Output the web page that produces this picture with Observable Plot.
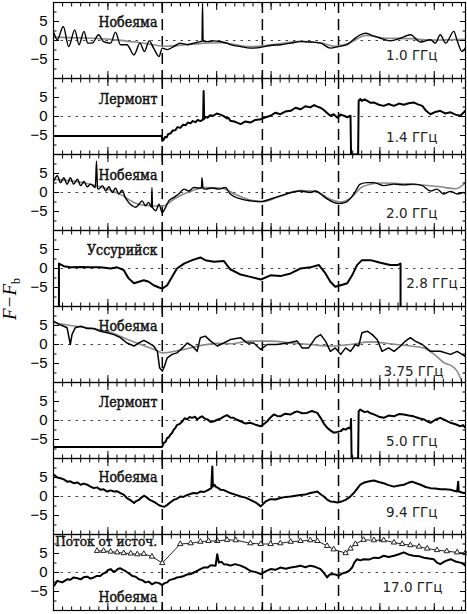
<!DOCTYPE html>
<html><head><meta charset="utf-8">
<script src="https://cdn.jsdelivr.net/npm/d3@7"></script>
<script src="https://cdn.jsdelivr.net/npm/@observablehq/plot@0.6"></script>
<style>body{margin:0;background:#fff}</style>
</head><body><div id="chart"></div>
<script>
// time axis in minutes from the left edge; dashed lines mark events
const panels = [1, 2, 3, 4, 5, 6, 7, 8];
const stations = ["Нобеяма", "Лермонт", "Нобеяма", "Уссурийск", "Нобеяма", "Лермонт", "Нобеяма", "Нобеяма"];
const freqs = ["1.0 ГГц", "1.4 ГГц", "2.0 ГГц", "2.8 ГГц", "3.75 ГГц", "5.0 ГГц", "9.4 ГГц", "17.0 ГГц"];
const stationY = [4.8, 4.6, 4.6, 4.8, 4.8, 4.7, 4.9, -6.5];
const stationX = 1.91;
const freqX = [7.06, 7.06, 7.06, 7.43, 7.17, 7.06, 7.06, 7.15];
const freqY = [-3.9, -5.7, -5.6, -3.9, -7.1, -5.7, -4.2, -4.0];
const fluxLabel = "Поток от источ.";
const fluxLabelPos = [0.03, 8.0];
const eventTimes = [2.0, 3.84, 5.24];
const yLabelTicks = [-5, 0, 5];
const yMinorTicks = [-7.5, -2.5, 2.5, 7.5];
const xMajorTicks = [0, 1, 2, 3, 4, 5, 6, 7];
const xMinorTicks = d3.range(0, 7.58, 1 / 6);

// Panel 1: 1.0 GHz
const p1Black = [[0.01,1.9],[0.07,0.2],[0.18,3.7],[0.28,-1.6],[0.39,2.8],[0.47,-1.1],[0.56,2.4],[0.63,-0.7],[0.71,-0.7],[0.83,1.5],[0.92,-0.3],[1.05,-0.7],[1.14,2.2],[1.23,-1.1],[1.35,-1.1],[1.48,-3.8],[1.59,-0.7],[1.67,-2.9],[1.76,-0.1],[1.84,-2.0],[1.94,-4.2],[2.0,-2.0],[2.09,-2.4],[2.21,-1.6],[2.33,-0.7],[2.46,-1.1],[2.58,-0.7],[2.7,-0.3],[2.73,-0.2],[2.74,9.8],[2.75,-0.2],[2.83,-0.3],[2.95,-0.1],[3.07,-0.3],[3.19,-0.7],[3.25,-1.1],[3.44,-1.6],[3.62,-2.0],[3.81,-1.8],[3.99,-1.3],[4.17,-1.1],[4.36,-0.7],[4.54,-0.3],[4.72,-0.4],[4.91,-0.7],[5.09,-2.0],[5.24,-1.6],[5.4,-1.1],[5.51,0.2],[5.64,1.5],[5.74,1.9],[5.83,1.5],[6.01,0.6],[6.19,-0.1],[6.38,0.6],[6.56,1.5],[6.75,-0.4],[6.93,0.2],[7.02,-0.7],[7.11,1.5],[7.21,-0.7],[7.36,2.4],[7.42,0],[7.51,-2.9],[7.57,-2.0]];
const p1Grey = [[0,0.9],[0.5,0.7],[1.05,0.3],[1.6,-0.6],[2.06,-1.5],[2.52,-1.0],[3.07,-0.6],[3.62,-1.6],[4.08,-1.0],[4.54,-0.2],[4.91,-0.6],[5.18,-1.5],[5.46,-0.5],[5.74,1.3],[6.1,0.6],[6.56,0.5],[6.93,0.1],[7.3,0.2],[7.57,0.3]];
// Panel 2: 1.4 GHz
const p2Black = [[0,-5.1],[1.99,-5.1],[2.0,-6.4],[2.02,-6.2],[2.05,-5.4],[2.08,-5.5],[2.11,-4.6],[2.15,-4.5],[2.19,-3.7],[2.24,-3.6],[2.28,-2.8],[2.33,-3.0],[2.38,-2.2],[2.43,-2.3],[2.47,-1.6],[2.52,-1.8],[2.56,-1.2],[2.61,-1.5],[2.65,-0.9],[2.7,-1.2],[2.75,-0.8],[2.76,6.7],[2.77,-0.6],[2.8,-0.1],[2.83,-0.3],[2.88,0.3],[2.94,0.2],[3.0,0.8],[3.07,0.5],[3.13,0.1],[3.19,-0.5],[3.22,-0.4],[3.25,-1.1],[3.34,-1.4],[3.44,-2.0],[3.53,-1.3],[3.62,-1.6],[3.71,-0.9],[3.81,-0.7],[3.9,-0.2],[3.99,0.2],[4.08,1.0],[4.17,0.6],[4.26,1.3],[4.36,1.5],[4.45,2.3],[4.54,1.9],[4.63,2.7],[4.72,2.4],[4.79,3.0],[4.85,2.6],[4.91,2.3],[4.97,1.7],[5.03,0.9],[5.09,0.2],[5.15,0.6],[5.22,-0.3],[5.28,0.5],[5.34,0.2],[5.4,-0.2],[5.46,0.2],[5.47,-10],[5.6,-10],[5.61,4.1],[5.64,4.6],[5.67,4.1],[5.72,4.5],[5.77,4.1],[5.83,3.6],[5.89,3.7],[5.98,3.1],[6.07,2.8],[6.16,3.3],[6.26,2.8],[6.35,3.4],[6.44,3.1],[6.53,3.5],[6.62,3.7],[6.7,3.2],[6.78,2.8],[6.85,1.5],[6.93,0.6],[7.02,1.2],[7.11,1.5],[7.2,0.8],[7.3,1.1],[7.39,0.5],[7.48,0.2],[7.53,0.9],[7.57,1.5]];
// Panel 3: 2.0 GHz
const p3Black = [[0.01,3.1],[0.07,4.4],[0.13,2.6],[0.19,3.9],[0.25,2.2],[0.31,3.9],[0.37,2.2],[0.44,3.5],[0.5,1.8],[0.56,2.9],[0.62,1.5],[0.68,2.2],[0.77,1.3],[0.79,8.3],[0.81,1.1],[0.83,0.9],[0.9,1.8],[0.96,0.4],[1.02,1.5],[1.08,0],[1.14,1.2],[1.2,-0.4],[1.26,0.6],[1.32,-1.3],[1.38,-2.6],[1.45,-3.5],[1.51,-3.9],[1.57,-3.1],[1.63,-2.2],[1.69,-3.5],[1.75,-2.6],[1.8,-3.9],[1.81,1.3],[1.82,-3.9],[1.88,-4.8],[1.94,-3.1],[2.0,-5.3],[2.06,-3.9],[2.12,-2.2],[2.21,-1.3],[2.3,-0.4],[2.4,0.9],[2.49,0.4],[2.58,1.3],[2.67,1.2],[2.72,1.2],[2.73,3.9],[2.75,1.0],[2.79,0.9],[2.92,1.2],[3.04,0.9],[3.16,1.3],[3.25,-0.4],[3.44,-1.7],[3.62,-2.2],[3.81,-2.4],[3.99,-1.7],[4.17,-0.9],[4.36,0],[4.54,0.4],[4.72,0],[4.82,0.4],[4.91,-0.4],[5.03,-1.7],[5.15,-2.6],[5.24,-2.9],[5.37,-2.6],[5.52,-0.4],[5.64,2.2],[5.77,2.6],[5.89,2.6],[6.07,1.8],[6.26,2.2],[6.44,2.0],[6.62,2.2],[6.78,1.8],[6.93,0.4],[7.05,0.9],[7.17,-0.4],[7.3,0.3],[7.42,-0.4],[7.54,0],[7.57,-0.2]];
const p3Grey = [[0,3.5],[0.5,2.7],[0.86,1.5],[1.23,-0.5],[1.51,-2.8],[1.78,-3.5],[2.0,-3.6],[2.24,-1.5],[2.52,0.3],[2.79,1.3],[3.07,1.2],[3.35,-0.5],[3.62,-2.0],[3.84,-2.4],[4.17,-1.0],[4.54,0.5],[4.82,0.3],[5.09,-1.8],[5.28,-2.5],[5.46,-1.5],[5.68,1.5],[6.01,2.5],[6.56,2.2],[7.11,1.5],[7.39,1.0],[7.57,2.5]];
// Panel 4: 2.8 GHz
const p4Black = [[0.1,-10],[0.1,1.3],[0.19,0.6],[0.31,0.3],[0.5,0.4],[0.68,0.3],[0.86,0.3],[1.05,0],[1.17,0.3],[1.29,-0.4],[1.38,-2.6],[1.48,-3.9],[1.57,-3.5],[1.66,-3.1],[1.75,-3.5],[1.84,-4.4],[1.94,-5.0],[2.0,-5.3],[2.09,-4.4],[2.18,-2.2],[2.27,0],[2.4,1.3],[2.55,2.2],[2.7,2.9],[2.79,2.2],[2.95,1.8],[3.13,2.0],[3.25,-0.2],[3.44,-1.6],[3.62,-2.2],[3.81,-2.9],[3.99,-1.8],[4.17,-2.0],[4.36,-1.3],[4.54,0],[4.72,0.3],[4.88,0.9],[5.0,-1.3],[5.09,-3.5],[5.18,-4.8],[5.28,-4.4],[5.4,-3.9],[5.49,-1.8],[5.58,0.9],[5.67,2.2],[5.83,2.2],[6.01,1.5],[6.19,0.9],[6.32,0.9],[6.38,1.3],[6.38,-10]];
// Panel 5: 3.75 GHz
const p5Black = [[0.01,6.1],[0.1,5.3],[0.19,4.8],[0.25,4.4],[0.28,2.2],[0.31,0],[0.34,2.6],[0.4,4.4],[0.5,4.8],[0.62,4.2],[0.74,4.2],[0.86,3.5],[0.99,3.1],[1.11,2.6],[1.23,1.8],[1.35,0.4],[1.48,-0.4],[1.57,0.4],[1.66,1.1],[1.75,0.4],[1.84,-0.4],[1.91,-1.8],[1.95,-6.1],[2.0,-7.0],[2.04,-5.7],[2.09,-3.5],[2.18,-2.6],[2.27,-2.2],[2.37,-0.9],[2.46,0.4],[2.55,-0.4],[2.64,-1.8],[2.7,1.8],[2.79,2.2],[2.89,0.9],[3.01,-0.4],[3.13,0.4],[3.25,1.3],[3.44,1.8],[3.56,0.4],[3.68,0.4],[3.81,-1.3],[3.93,0],[4.11,0],[4.3,0.4],[4.48,0.9],[4.57,-0.9],[4.69,-0.9],[4.82,1.8],[4.91,2.6],[5.0,0.9],[5.09,-1.8],[5.18,-0.9],[5.28,-2.6],[5.37,-0.9],[5.46,-1.8],[5.55,0],[5.61,-0.4],[5.67,3.1],[5.77,3.5],[5.86,2.6],[5.95,1.3],[6.04,-1.8],[6.16,-0.9],[6.26,-1.8],[6.38,-0.4],[6.47,0.9],[6.56,1.8],[6.65,0.9],[6.78,0],[6.93,-1.8],[7.11,-1.8],[7.3,-2.6],[7.42,-1.8],[7.51,-2.6],[7.57,-3.1]];
const p5Grey = [[0,5.8],[0.31,5.0],[0.68,4.3],[1.05,3.2],[1.32,1.6],[1.6,0.0],[1.88,-1.5],[2.0,-2.2],[2.33,-1.5],[2.7,-0.3],[3.0,0.3],[3.25,0.2],[3.62,0.9],[3.99,0.9],[4.36,0.4],[4.72,0],[5.09,-0.4],[5.46,0],[5.83,0.7],[6.19,0.2],[6.56,-0.4],[6.81,-0.9],[7.0,-2.6],[7.18,-4.8],[7.33,-5.7],[7.42,-7.0],[7.48,-8.8],[7.51,-10]];
// Panel 6: 5.0 GHz
const p6Black = [[0,-7.0],[1.99,-7.0],[2.0,-6.8],[2.03,-5.9],[2.06,-5.6],[2.09,-4.6],[2.12,-4.4],[2.15,-3.7],[2.18,-3.3],[2.21,-2.4],[2.24,-2.0],[2.27,-1.2],[2.32,-0.9],[2.37,-0.2],[2.41,0.6],[2.46,0.3],[2.5,0.9],[2.55,0.7],[2.6,1.0],[2.64,0.3],[2.69,0.8],[2.73,1.1],[2.78,0.5],[2.83,0.3],[2.89,-0.4],[2.95,-0.2],[3.01,0.2],[3.07,0.5],[3.13,1.0],[3.19,1.4],[3.25,0.8],[3.31,0.7],[3.37,0.2],[3.44,-0.2],[3.53,-0.8],[3.62,-0.6],[3.71,-1.1],[3.81,-1.5],[3.87,-0.9],[3.93,-0.2],[3.99,0.8],[4.05,1.6],[4.11,1.2],[4.17,1.1],[4.26,1.8],[4.36,1.6],[4.42,2.1],[4.48,2.4],[4.57,1.9],[4.66,2.0],[4.75,2.5],[4.85,2.0],[4.91,0.7],[4.97,-0.8],[5.03,-1.9],[5.09,-2.6],[5.15,-3.2],[5.22,-3.0],[5.28,-2.8],[5.33,-2.2],[5.37,-2.4],[5.42,-1.9],[5.46,-2.1],[5.47,0.4],[5.48,-10],[5.6,-10],[5.61,2.4],[5.64,2.9],[5.67,2.6],[5.72,2.2],[5.77,2.4],[5.83,1.9],[5.89,1.6],[5.98,1.0],[6.07,0.7],[6.16,1.3],[6.26,1.1],[6.35,1.7],[6.44,1.6],[6.53,1.3],[6.62,1.1],[6.72,0.6],[6.81,0.3],[6.87,-0.2],[6.93,-0.6],[7.02,0.2],[7.11,0.7],[7.2,0.1],[7.3,-0.6],[7.39,-1.0],[7.48,-1.5],[7.53,-1.2],[7.57,-1.9]];
// Panel 7: 9.4 GHz
const p7Black = [[0.01,5.7],[0.07,5.0],[0.13,4.8],[0.19,4.5],[0.25,3.9],[0.31,4.0],[0.37,3.5],[0.44,3.7],[0.5,3.1],[0.56,3.4],[0.62,3.1],[0.68,2.6],[0.74,2.2],[0.8,2.4],[0.86,1.8],[0.92,1.9],[0.99,1.3],[1.05,1.6],[1.11,1.3],[1.17,1.4],[1.23,0.9],[1.29,0.5],[1.35,-0.4],[1.42,-1.0],[1.48,-1.7],[1.52,-1.2],[1.57,-0.9],[1.62,-0.2],[1.67,0.2],[1.72,-0.3],[1.77,-0.9],[1.82,-1.2],[1.88,-1.7],[1.94,-2.3],[2.0,-2.6],[2.04,-2.7],[2.09,-2.2],[2.15,-1.5],[2.21,-0.9],[2.27,-0.6],[2.33,0],[2.39,-0.1],[2.46,0.4],[2.52,0.7],[2.58,0.9],[2.64,0.8],[2.7,1.3],[2.77,1.2],[2.83,1.6],[2.9,2.2],[2.92,7.9],[2.93,2.6],[2.96,3.1],[2.98,2.6],[3.03,2.2],[3.07,1.8],[3.13,1.7],[3.19,1.3],[3.25,0.9],[3.34,0.5],[3.44,0],[3.53,-0.3],[3.62,-0.9],[3.72,-1.6],[3.81,-2.6],[3.9,-1.3],[3.99,-0.7],[4.08,-0.8],[4.17,-0.4],[4.27,-0.1],[4.36,0],[4.45,0.2],[4.54,0.4],[4.63,0.5],[4.72,0.9],[4.79,1.1],[4.85,1.3],[4.91,0.6],[4.97,0],[5.03,-0.8],[5.09,-1.3],[5.15,-1.4],[5.22,-1.6],[5.3,-1.3],[5.37,-0.9],[5.45,-0.1],[5.52,0.9],[5.58,2.0],[5.64,3.1],[5.7,3.6],[5.77,3.9],[5.83,4.1],[5.89,4.2],[5.98,3.8],[6.07,3.5],[6.16,3.0],[6.26,2.6],[6.35,2.9],[6.44,3.1],[6.52,3.6],[6.59,3.9],[6.67,3.5],[6.75,3.1],[6.84,2.5],[6.93,2.2],[7.02,2.1],[7.11,1.9],[7.2,1.9],[7.3,1.8],[7.36,1.5],[7.42,1.3],[7.44,3.9],[7.45,1.3],[7.54,0.9],[7.57,0.9]];
// Panel 8: 17.0 GHz
const p8Black = [[0.01,-3.5],[0.07,-2.2],[0.16,-2.6],[0.25,-1.8],[0.31,-1.9],[0.37,-1.3],[0.44,-1.5],[0.5,-1.8],[0.56,-1.2],[0.62,-1.1],[0.68,-1.6],[0.74,-1.3],[0.8,-0.9],[0.86,-0.9],[0.91,-0.3],[0.96,0],[1.0,0.6],[1.05,0.9],[1.1,0.2],[1.14,0.4],[1.19,1.0],[1.23,1.1],[1.28,0.7],[1.32,0.4],[1.38,-0.2],[1.45,-0.9],[1.51,-1.1],[1.57,-1.8],[1.63,-2.0],[1.69,-2.6],[1.75,-2.4],[1.81,-3.1],[1.88,-2.6],[1.94,-2.8],[2.0,-3.3],[2.04,-2.8],[2.09,-2.6],[2.13,-2.0],[2.18,-1.8],[2.23,-1.6],[2.27,-1.3],[2.33,-1.2],[2.4,-0.9],[2.46,-0.5],[2.52,-0.4],[2.58,0],[2.64,0.4],[2.7,0.9],[2.76,1.3],[2.83,1.3],[2.89,1.9],[2.98,1.8],[3.01,4.8],[3.04,2.6],[3.09,2.8],[3.13,2.2],[3.19,2.1],[3.25,1.8],[3.34,2.2],[3.44,1.8],[3.53,1.2],[3.62,0.4],[3.72,0.1],[3.81,-0.4],[3.9,0.3],[3.99,0.9],[4.08,0.7],[4.17,1.3],[4.27,1.0],[4.36,1.3],[4.45,1.5],[4.54,1.8],[4.63,1.4],[4.72,1.8],[4.81,1.5],[4.91,0.9],[4.97,-0.1],[5.03,-1.3],[5.07,-0.6],[5.12,-0.4],[5.18,-0.5],[5.24,-0.9],[5.3,-0.3],[5.37,0],[5.43,0.4],[5.49,1.3],[5.53,2.6],[5.58,3.5],[5.64,3.2],[5.7,3.5],[5.8,3.4],[5.89,3.9],[5.98,3.8],[6.07,4.4],[6.16,4.1],[6.26,4.4],[6.35,4.8],[6.44,5.3],[6.53,4.7],[6.62,4.4],[6.72,4.3],[6.81,3.9],[6.9,3.7],[6.99,3.5],[7.05,2.6],[7.11,2.2],[7.2,3.0],[7.3,3.5],[7.39,2.9],[7.48,2.6],[7.53,2.3],[7.57,1.8]];
const p8Flux = [[0.8,5.7],[0.92,5.7],[1.05,5.5],[1.17,5.3],[1.29,5.1],[1.42,5.0],[1.54,4.8],[1.66,4.9],[1.81,4.2],[2.0,2.5],[2.33,7.5],[2.52,7.7],[2.7,8.1],[2.85,8.3],[3.01,8.3],[3.19,8.6],[3.35,8.5],[3.62,7.7],[3.81,7.5],[3.99,7.5],[4.17,7.7],[4.36,8.1],[4.54,8.3],[4.72,8.5],[4.85,8.3],[5.03,7.0],[5.15,6.1],[5.37,5.1],[5.46,6.3],[5.55,7.5],[5.7,8.6],[5.89,8.5],[6.07,8.5],[6.26,7.9],[6.41,7.5],[6.56,7.2],[6.72,6.8],[6.87,6.3],[7.05,5.9],[7.23,5.6],[7.42,5.3],[7.57,5.1]];

const blackSeries = [p1Black, p2Black, p3Black, p4Black, p5Black, p6Black, p7Black, p8Black];
const greySeries = {1: p1Grey, 3: p3Grey, 5: p5Grey};
const smoothPanels = [1, 3];   // oscillating records drawn with a smooth curve
const heavyPanels = [2, 4, 6, 7, 8];  // densely noisy records look heavier

const blackRows = blackSeries.flatMap((pts, i) => pts.map(([x, y]) => ({panel: panels[i], x, y})));
const greyRows = Object.entries(greySeries).flatMap(([p, pts]) => pts.map(([x, y]) => ({panel: +p, x, y})));
const fluxRows = p8Flux.map(([x, y]) => ({panel: 8, x, y}));
const stationRows = panels.map((p, i) => ({panel: p, x: stationX, y: stationY[i], text: stations[i]}));
const fluxLabelRows = [{panel: 8, x: fluxLabelPos[0], y: fluxLabelPos[1], text: fluxLabel}];
const freqRows = panels.map((p, i) => ({panel: p, x: freqX[i], y: freqY[i], text: freqs[i]}));

const blank = () => "";
const serif = "'DejaVu Serif Condensed', 'DejaVu Serif', serif";
const plot = Plot.plot({
  width: 467, height: 614,
  marginLeft: 53, marginRight: 2, marginTop: 1, marginBottom: 3,
  style: {fontFamily: "Liberation Sans, sans-serif", fontSize: "14px", background: "white", color: "black"},
  x: {domain: [0, 7.574]},
  y: {domain: [-10, 10]},
  fy: {domain: panels, padding: 0, axis: null},
  marks: [
    Plot.ruleY([0], {stroke: "#444", strokeWidth: 1, strokeDasharray: "2.5,5"}),
    Plot.ruleX(eventTimes, {stroke: "black", strokeWidth: 1.5, strokeDasharray: "11,6"}),
    Plot.line(greyRows, {x: "x", y: "y", fy: "panel", z: "panel", stroke: "#8a8a8a", strokeWidth: 1.6, curve: "monotone-x", clip: true}),
    Plot.line(blackRows.filter(d => smoothPanels.includes(d.panel)), {x: "x", y: "y", fy: "panel", z: "panel", stroke: "black", strokeWidth: 1.4, curve: "monotone-x", clip: true}),
    Plot.line(blackRows.filter(d => d.panel === 5), {x: "x", y: "y", fy: "panel", z: "panel", stroke: "black", strokeWidth: 1.5, clip: true}),
    Plot.line(blackRows.filter(d => heavyPanels.includes(d.panel)), {x: "x", y: "y", fy: "panel", z: "panel", stroke: "black", strokeWidth: 2, clip: true}),
    Plot.line(fluxRows, {x: "x", y: "y", fy: "panel", stroke: "#222", strokeWidth: 1}),
    Plot.dot(fluxRows, {x: "x", y: "y", fy: "panel", symbol: "triangle", r: 2, stroke: "#222", fill: "white", strokeWidth: 1}),
    Plot.text(stationRows, {x: "x", y: "y", fy: "panel", text: "text", textAnchor: "end", fontFamily: serif, fontSize: 14, fill: "#111", stroke: "#111", strokeWidth: 0.45}),
    Plot.text(fluxLabelRows, {x: "x", y: "y", fy: "panel", text: "text", textAnchor: "start", fontFamily: serif, fontSize: 13.5, fill: "#111", stroke: "#111", strokeWidth: 0.45}),
    Plot.text(freqRows, {x: "x", y: "y", fy: "panel", text: "text", textAnchor: "end", fontFamily: "'DejaVu Sans', sans-serif", fontSize: 13.5, fill: "#222"}),
    Plot.frame({stroke: "black", strokeWidth: 1.2}),
    Plot.axisY(yLabelTicks, {anchor: "left", tickSize: 0, tickPadding: 6, label: null, fontSize: 15, facetAnchor: null}),
    Plot.axisY(yLabelTicks, {anchor: "left", tickSize: -6, tickFormat: blank, label: null, facetAnchor: null}),
    Plot.axisY(yMinorTicks, {anchor: "left", tickSize: -3.5, tickFormat: blank, label: null, facetAnchor: null}),
    Plot.axisY(yLabelTicks, {anchor: "right", tickSize: -6, tickFormat: blank, label: null, facetAnchor: null}),
    Plot.axisY(yMinorTicks, {anchor: "right", tickSize: -3.5, tickFormat: blank, label: null, facetAnchor: null}),
    Plot.axisX(xMinorTicks, {anchor: "bottom", tickSize: -3.5, tickFormat: blank, label: null, facetAnchor: null}),
    Plot.axisX(xMinorTicks, {anchor: "top", tickSize: -3.5, tickFormat: blank, label: null, facetAnchor: null}),
    Plot.axisX(xMajorTicks, {anchor: "bottom", tickSize: -7, tickFormat: blank, label: null, facetAnchor: null}),
    Plot.axisX(xMajorTicks, {anchor: "top", tickSize: -7, tickFormat: blank, label: null, facetAnchor: null})
  ]
});

const svg = d3.select(plot);
const ylab = svg.append("text")
  .attr("transform", "translate(16,299) rotate(-90)")
  .attr("text-anchor", "middle")
  .attr("font-family", "Liberation Serif, serif")
  .attr("font-size", 19)
  .attr("fill", "black");
ylab.append("tspan").attr("font-style", "italic").text("F−F");
ylab.append("tspan").attr("font-size", 12).attr("dy", "0.35em").text("b");
document.getElementById("chart").appendChild(plot);
</script>
</body></html>
